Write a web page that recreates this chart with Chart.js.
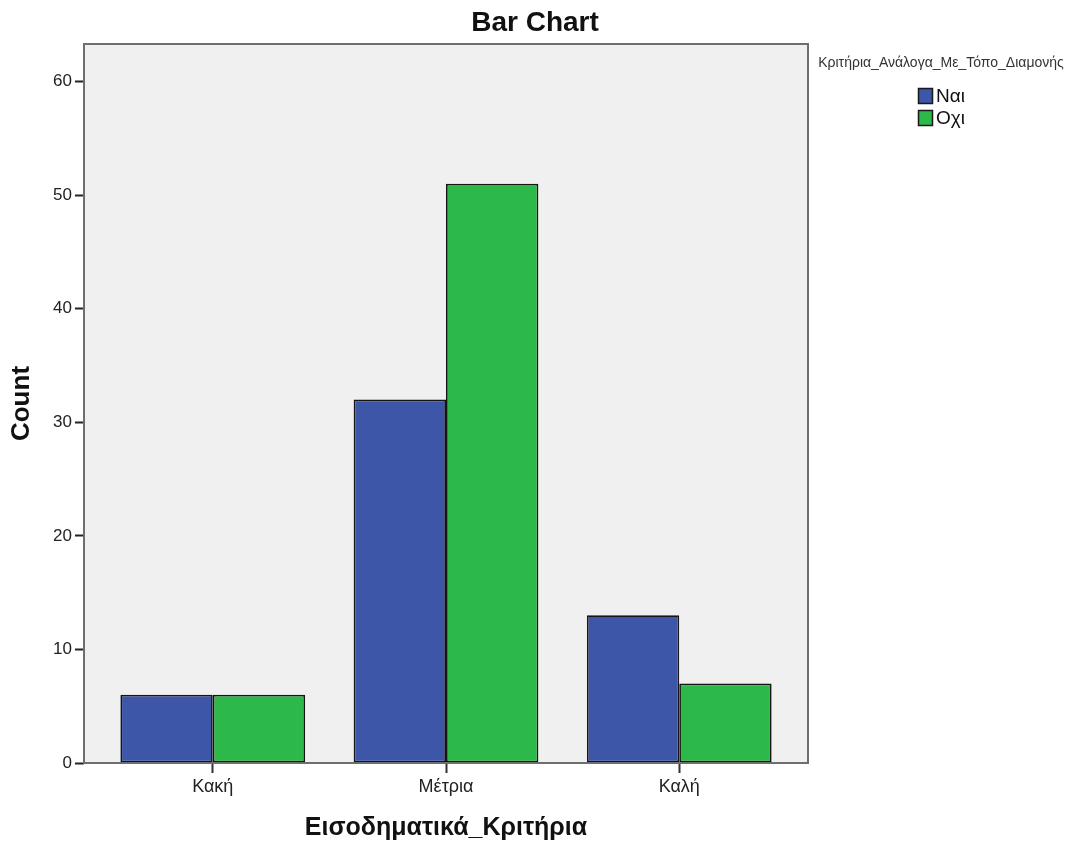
<!DOCTYPE html>
<html>
<head>
<meta charset="utf-8">
<script src="https://cdn.jsdelivr.net/npm/chart.js@4.4.1/dist/chart.umd.min.js"></script>
<style>
html,body{margin:0;padding:0;background:#fff;}
#wrap{width:1071px;height:850px;}
</style>
</head>
<body>
<div id="wrap"><canvas id="c" width="1071" height="850"></canvas></div>
<script>
const categories = ['Κακή', 'Μέτρια', 'Καλή'];
const naiValues = [6, 32, 13];
const oxiValues = [6, 51, 7];
const seriesNames = ['Ναι', 'Οχι'];
const legendTitle = 'Κριτήρια_Ανάλογα_Με_Τόπο_Διαμονής';
const chartTitle = 'Bar Chart';
const xTitle = 'Εισοδηματικά_Κριτήρια';
const yTitle = 'Count';
const yTicks = [0, 10, 20, 30, 40, 50, 60];

const FONT = 'Arial, "Liberation Sans", sans-serif';

const toPoints = vals => vals.map((v, i) => ({x: i, y: v}));

const plotBg = {
  id: 'plotBg',
  beforeDatasetsDraw(chart) {
    const {ctx, chartArea: a} = chart;
    ctx.save();
    ctx.fillStyle = '#f0f0f0';
    ctx.fillRect(a.left, a.top, a.right - a.left, a.bottom - a.top);
    ctx.restore();
  },
  afterDatasetsDraw(chart) {
    const {ctx, chartArea: a} = chart;
    ctx.save();
    ctx.strokeStyle = '#6e6e6e';
    ctx.lineWidth = 2;
    ctx.strokeRect(a.left, a.top, a.right - a.left, a.bottom - a.top);
    ctx.restore();
  }
};

const customText = {
  id: 'customText',
  afterDraw(chart) {
    const ctx = chart.ctx;
    ctx.save();
    ctx.fillStyle = '#111';
    ctx.font = 'bold 28px ' + FONT;
    ctx.textAlign = 'center';
    ctx.textBaseline = 'middle';
    ctx.fillText(chartTitle, 535, 23);
    ctx.fillStyle = '#333';
    ctx.font = '14px ' + FONT;
    ctx.fillText(legendTitle, 941, 63);
    ctx.textAlign = 'left';
    ctx.font = '19px ' + FONT;
    chart.data.datasets.forEach((ds, i) => {
      const y = 96 + i * 22;
      ctx.fillStyle = ds.backgroundColor;
      ctx.fillRect(918, y - 8, 15, 16);
      ctx.strokeStyle = '#1a1a1a';
      ctx.lineWidth = 1.5;
      ctx.strokeRect(918.5, y - 7.5, 14, 15);
      ctx.fillStyle = '#111';
      ctx.fillText(ds.label, 936, y + 1);
    });
    ctx.restore();
  }
};

new Chart(document.getElementById('c'), {
  type: 'bar',
  data: {
    datasets: [
      {label: seriesNames[0], data: toPoints(naiValues), backgroundColor: '#3d56a8', borderColor: '#151515', borderWidth: 1.7, borderSkipped: false},
      {label: seriesNames[1], data: toPoints(oxiValues), backgroundColor: '#2db84a', borderColor: '#151515', borderWidth: 1.7, borderSkipped: false}
    ]
  },
  options: {
    responsive: false,
    animation: false,
    layout: {padding: {left: 0, right: 263, top: 44, bottom: 0}},
    datasets: {bar: {categoryPercentage: 0.792, barPercentage: 1.0}},
    plugins: {
      legend: {display: false},
      tooltip: {enabled: false},
      title: {display: false}
    },
    scales: {
      x: {
        type: 'linear',
        offset: false,
        min: -0.552,
        max: 2.552,
        grid: {display: true, offset: false, drawOnChartArea: false, tickLength: 10, tickColor: '#333', tickWidth: 2},
        border: {display: false},
        afterBuildTicks(s) { s.ticks = categories.map((c, i) => ({value: i})); },
        ticks: {color: '#222', font: {family: FONT, size: 18}, padding: 3, callback: v => categories[v]},
        title: {display: true, text: xTitle, color: '#111', font: {family: FONT, size: 25, weight: 'bold'}, padding: {top: 4, bottom: 7}},
        afterFit(s) { s.height = 87; }
      },
      y: {
        min: 0,
        max: 63.3,
        grid: {display: true, drawOnChartArea: false, tickLength: 9, tickColor: '#222', tickWidth: 2},
        border: {display: false},
        ticks: {color: '#222', font: {family: FONT, size: 17}, padding: 3},
        afterBuildTicks(s) { s.ticks = yTicks.map(v => ({value: v})); },
        title: {display: true, text: yTitle, color: '#111', font: {family: FONT, size: 26, weight: 'bold'}, padding: {top: 6, bottom: 0}},
        afterFit(s) { s.width = 84; }
      }
    }
  },
  plugins: [plotBg, customText]
});
</script>
</body>
</html>
